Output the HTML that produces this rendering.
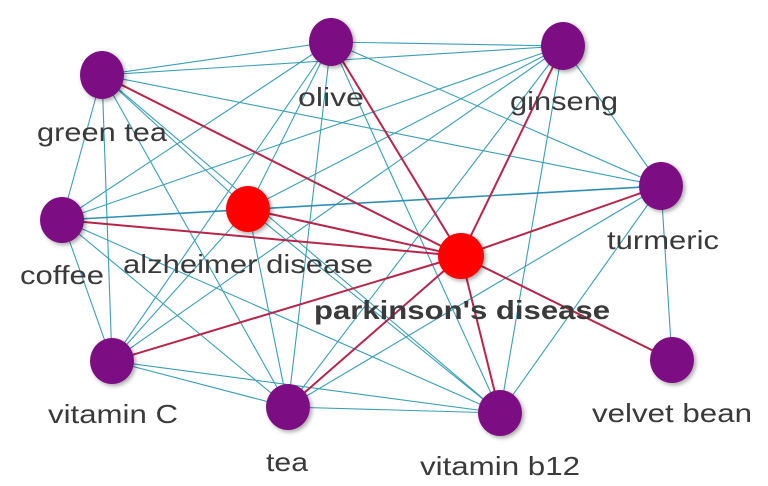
<!DOCTYPE html>
<html><head><style>
body{margin:0;background:#fff}
svg{display:block}
text{font-family:"Liberation Sans",sans-serif;font-size:26px;fill:#3a3a3a;text-anchor:middle}
.t line{stroke:#3a9fb5;stroke-width:1.1}
.r line{stroke:#b8254a;stroke-width:2}
</style></head><body>
<svg width="768" height="486" viewBox="0 0 768 486">
<defs><filter id="s" x="-50%" y="-50%" width="200%" height="200%"><feDropShadow dx="2" dy="2" stdDeviation="2" flood-opacity="0.35"/></filter></defs>
<g class="t">
<line x1="102" y1="75" x2="331" y2="42"/>
<line x1="102" y1="75" x2="563" y2="46"/>
<line x1="102" y1="75" x2="661" y2="186"/>
<line x1="102" y1="75" x2="62" y2="220"/>
<line x1="102" y1="75" x2="112" y2="361"/>
<line x1="102" y1="75" x2="288" y2="407"/>
<line x1="102" y1="75" x2="500" y2="413"/>
<line x1="102" y1="75" x2="248" y2="209"/>
<line x1="331" y1="42" x2="563" y2="46"/>
<line x1="331" y1="42" x2="661" y2="186"/>
<line x1="331" y1="42" x2="62" y2="220"/>
<line x1="331" y1="42" x2="112" y2="361"/>
<line x1="331" y1="42" x2="288" y2="407"/>
<line x1="331" y1="42" x2="500" y2="413"/>
<line x1="331" y1="42" x2="248" y2="209"/>
<line x1="563" y1="46" x2="661" y2="186"/>
<line x1="563" y1="46" x2="62" y2="220"/>
<line x1="563" y1="46" x2="112" y2="361"/>
<line x1="563" y1="46" x2="288" y2="407"/>
<line x1="563" y1="46" x2="500" y2="413"/>
<line x1="563" y1="46" x2="248" y2="209"/>
<line x1="661" y1="186" x2="62" y2="220" style="stroke-width:1.6;stroke:#2f8fb0"/>
<line x1="661" y1="186" x2="288" y2="407"/>
<line x1="661" y1="186" x2="500" y2="413"/>
<line x1="661" y1="186" x2="672" y2="360"/>
<line x1="62" y1="220" x2="112" y2="361"/>
<line x1="62" y1="220" x2="288" y2="407"/>
<line x1="62" y1="220" x2="500" y2="413"/>
<line x1="112" y1="361" x2="288" y2="407"/>
<line x1="112" y1="361" x2="500" y2="413"/>
<line x1="112" y1="361" x2="248" y2="209"/>
<line x1="288" y1="407" x2="500" y2="413"/>
<line x1="288" y1="407" x2="248" y2="209"/>
<line x1="500" y1="413" x2="248" y2="209"/>
</g>
<g class="r">
<line x1="461" y1="256" x2="102" y2="75"/>
<line x1="461" y1="256" x2="331" y2="42"/>
<line x1="461" y1="256" x2="563" y2="46"/>
<line x1="461" y1="256" x2="661" y2="186"/>
<line x1="461" y1="256" x2="62" y2="220"/>
<line x1="461" y1="256" x2="248" y2="209"/>
<line x1="461" y1="256" x2="112" y2="361"/>
<line x1="461" y1="256" x2="288" y2="407"/>
<line x1="461" y1="256" x2="500" y2="413"/>
<line x1="461" y1="256" x2="672" y2="360"/>
</g>
<g filter="url(#s)" fill="#7b0a82">
<ellipse cx="102" cy="75" rx="22" ry="24"/>
<ellipse cx="331" cy="42" rx="22" ry="24"/>
<ellipse cx="563" cy="46" rx="22" ry="24"/>
<ellipse cx="661" cy="186" rx="22" ry="24"/>
<ellipse cx="62" cy="220" rx="22" ry="23"/>
<ellipse cx="112" cy="361" rx="22" ry="23"/>
<ellipse cx="288" cy="407" rx="22" ry="23"/>
<ellipse cx="500" cy="413" rx="22" ry="23"/>
<ellipse cx="672" cy="360" rx="22" ry="23"/>
<ellipse cx="248" cy="209" rx="22" ry="23" fill="#ff0000"/>
<ellipse cx="461" cy="256" rx="23" ry="23" fill="#ff0000"/>
</g>
<g lengthAdjust="spacingAndGlyphs">
<text x="102" y="141" textLength="130" lengthAdjust="spacingAndGlyphs">green tea</text>
<text x="331" y="106" textLength="66" lengthAdjust="spacingAndGlyphs">olive</text>
<text x="564" y="110" textLength="108" lengthAdjust="spacingAndGlyphs">ginseng</text>
<text x="663" y="249" textLength="112" lengthAdjust="spacingAndGlyphs">turmeric</text>
<text x="62" y="284" textLength="84" lengthAdjust="spacingAndGlyphs">coffee</text>
<text x="248" y="273" textLength="250" lengthAdjust="spacingAndGlyphs">alzheimer disease</text>
<text x="462" y="319" style="font-weight:bold" textLength="296" lengthAdjust="spacingAndGlyphs">parkinson's disease</text>
<text x="113" y="423" textLength="130" lengthAdjust="spacingAndGlyphs">vitamin C</text>
<text x="287" y="471" textLength="42" lengthAdjust="spacingAndGlyphs">tea</text>
<text x="500" y="475" textLength="160" lengthAdjust="spacingAndGlyphs">vitamin b12</text>
<text x="672" y="422" textLength="160" lengthAdjust="spacingAndGlyphs">velvet bean</text>
</g>
</svg>
</body></html>
